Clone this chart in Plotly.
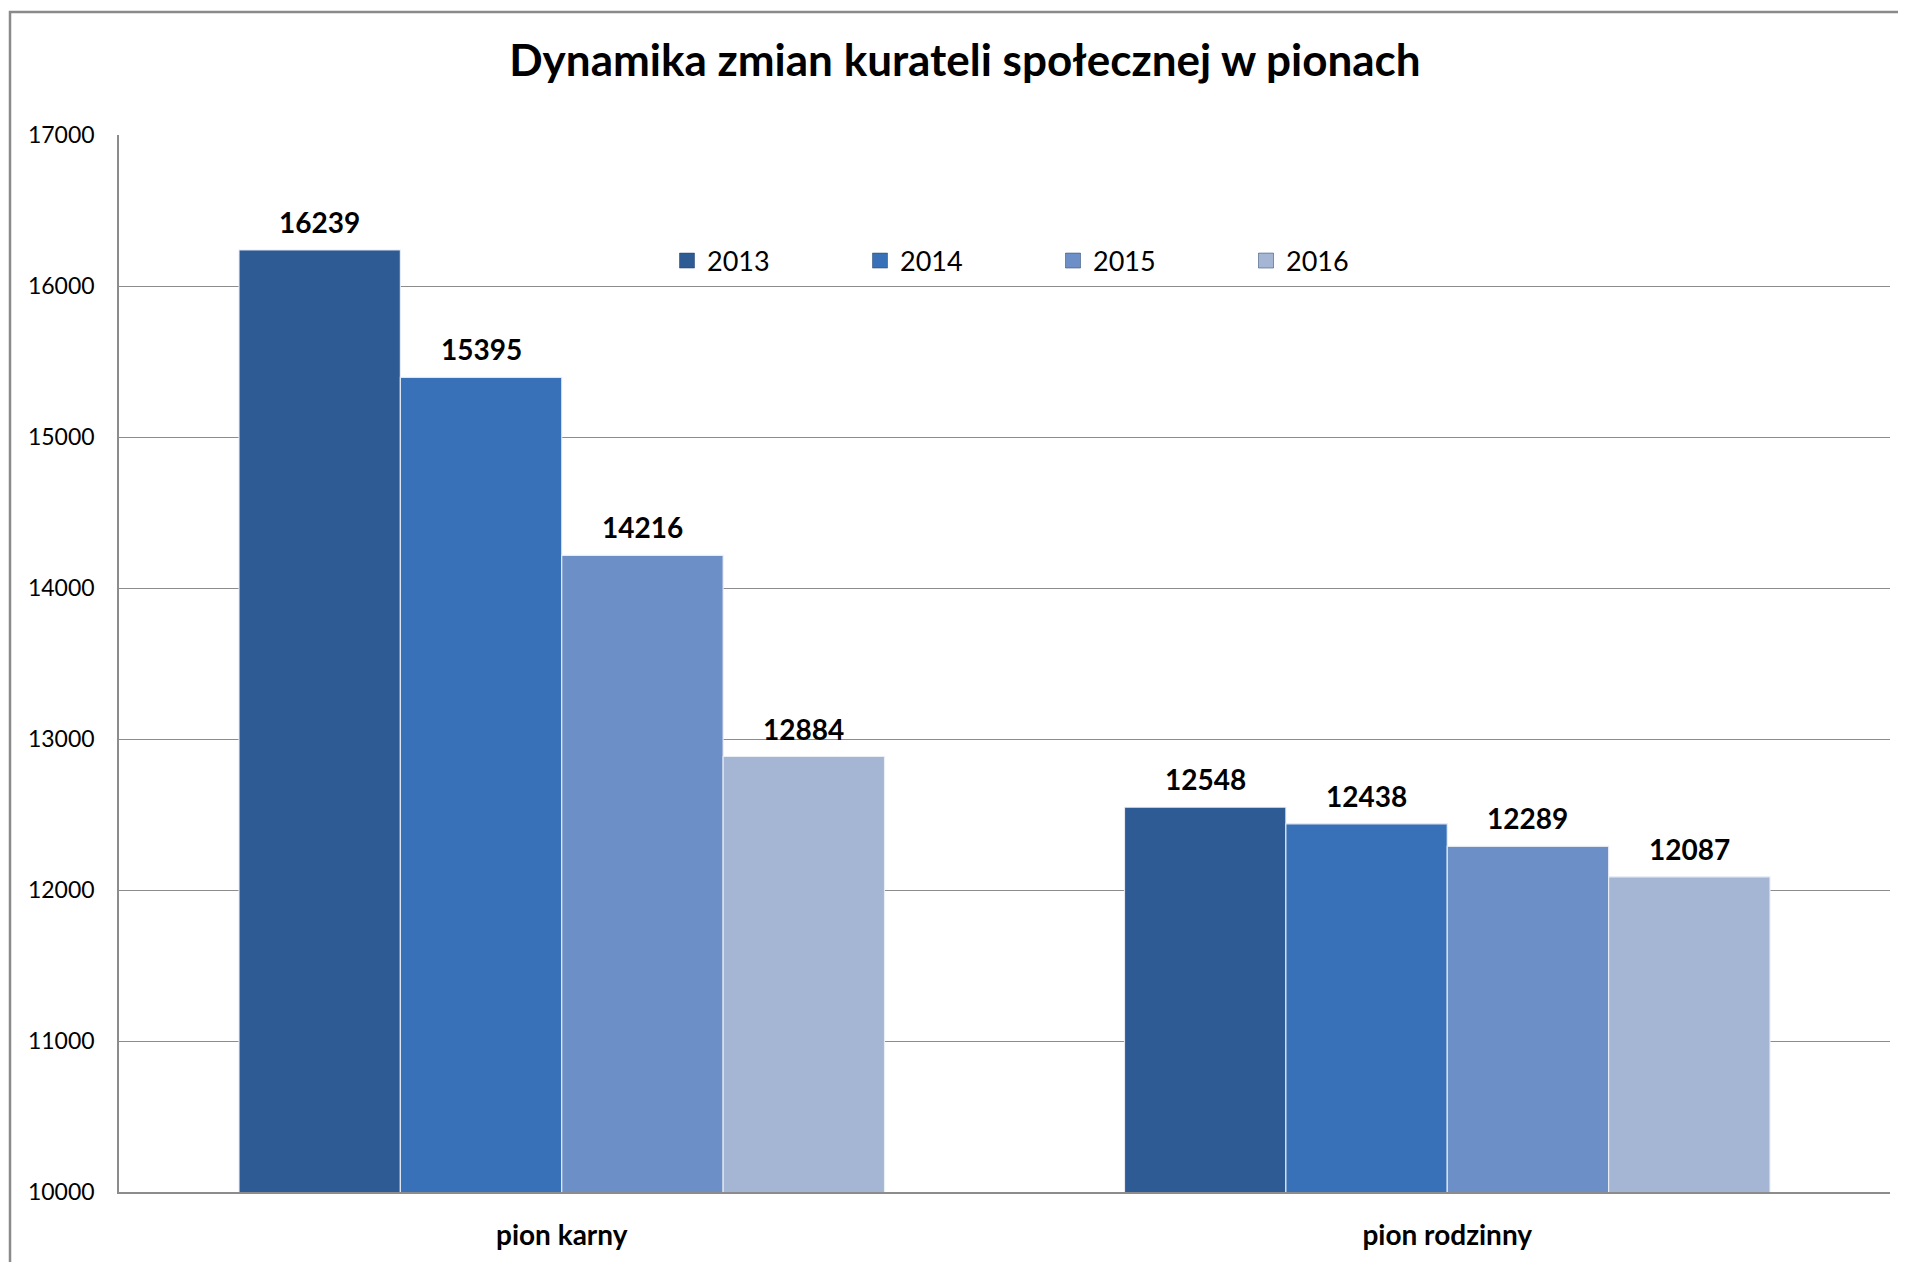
import plotly.graph_objects as go

categories = ["pion karny", "pion rodzinny"]
years = ["2013", "2014", "2015", "2016"]
values_2013 = [16239, 12548]
values_2014 = [15395, 12438]
values_2015 = [14216, 12289]
values_2016 = [12884, 12087]
y_ticks = [10000, 11000, 12000, 13000, 14000, 15000, 16000, 17000]
y_tick_labels = ["10000", "11000", "12000", "13000", "14000", "15000", "16000", "17000"]

series = [values_2013, values_2014, values_2015, values_2016]
colors = ["#2e5b94", "#3871b8", "#6d8fc7", "#a5b6d4"]

# page has an 8px body margin; size the figure to fit inside the viewport
W, H = 1898, 1254
ML, MR, MT, MB = 111, 16, 127, 70
PW, PH = W - ML - MR, H - MT - MB
BARGAP = 0.271

fig = go.Figure()
for name, vals, col in zip(years, series, colors):
    fig.add_trace(go.Bar(
        name=name, x=categories, y=vals, showlegend=False,
        marker=dict(color=col, line=dict(color="rgba(235,238,245,0.9)", width=1.2)),
    ))
# legend entries with larger square swatches
for name, col in zip(years, colors):
    fig.add_trace(go.Scatter(
        name=name, x=[None], y=[None], mode="markers",
        marker=dict(symbol="square", size=15, color=col, line=dict(color="#1f3f6a", width=0.5)),
    ))

# data labels above bars (positions derived from group layout)
n = len(years)
bw = (1 - BARGAP) / n
annotations = []
for i, vals in enumerate(series):
    for j, v in enumerate(vals):
        annotations.append(dict(
            x=j + (i - (n - 1) / 2) * bw, y=v, xref="x", yref="y",
            text=f"<b>{v}</b>", showarrow=False, yanchor="bottom", yshift=9,
            font=dict(family="Lato", size=28, color="#000000"),
        ))

fig.update_layout(
    width=W, height=H,
    margin=dict(l=ML, r=MR, t=MT, b=MB),
    paper_bgcolor="white", plot_bgcolor="white",
    barmode="group", bargap=BARGAP, bargroupgap=0,
    title=dict(text="<b>Dynamika zmian kurateli społecznej w pionach</b>",
               x=(965 - 8 - ML) / PW, xref="paper", xanchor="center",
               y=1 - (61 - 8) / H, yanchor="middle",
               font=dict(family="Lato", size=44, color="#000000")),
    legend=dict(orientation="h", x=(667 - 8 - ML) / PW, y=(H - MB - (261 - 8)) / PH,
                xanchor="left", yanchor="middle", bgcolor="rgba(0,0,0,0)",
                entrywidth=148, entrywidthmode="pixels",
                font=dict(family="Lato", size=27, color="#000000")),
    annotations=annotations,
    showlegend=True,
)
fig.update_xaxes(type="category", showgrid=False, showline=True, linecolor="#8c8c8c", linewidth=1.5,
                 ticks="", ticklabelstandoff=18,
                 tickfont=dict(family="Lato", size=28, color="#000000"),
                 tickvals=categories, ticktext=[f"<b>{c}</b>" for c in categories])
fig.update_yaxes(range=[10000, 17000], tickvals=y_ticks, ticktext=y_tick_labels,
                 showgrid=True, gridcolor="#8c8c8c", gridwidth=1,
                 showline=True, linecolor="#8c8c8c", linewidth=1.5, ticks="", ticklabelstandoff=18,
                 zeroline=False, tickfont=dict(family="Lato", size=23, color="#000000"))

# outer chart border
fig.add_shape(type="rect", xref="paper", yref="paper",
              x0=(10 - 8 - ML) / PW, x1=(W + 20 - ML) / PW,
              y0=(H - MB - (H + 20)) / PH, y1=(H - MB - (12 - 8)) / PH,
              line=dict(color="#8a8a8a", width=2.5), fillcolor="rgba(0,0,0,0)", layer="below")

fig.write_html("out.html")
